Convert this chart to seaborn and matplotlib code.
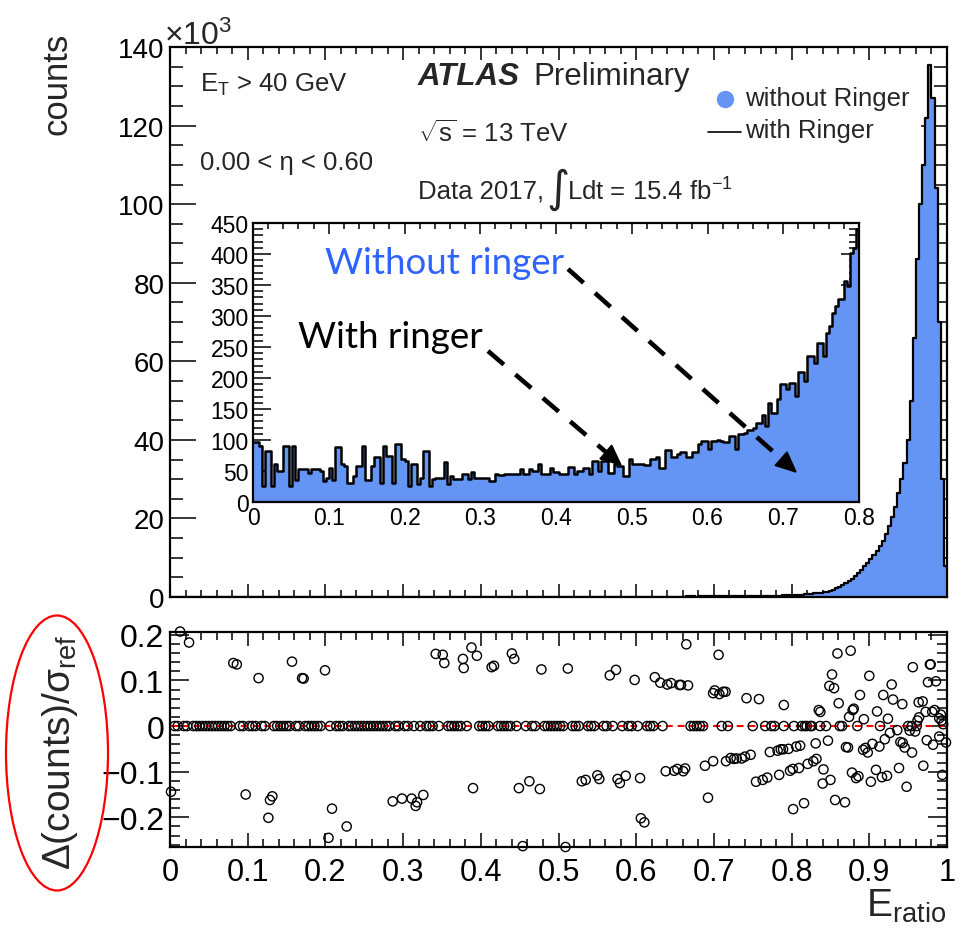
import numpy as np
import pandas as pd
import matplotlib
matplotlib.use("Agg")
import matplotlib.pyplot as plt
import seaborn as sns
from matplotlib.ticker import MultipleLocator, FuncFormatter
from matplotlib.patches import Ellipse, Polygon
from matplotlib.lines import Line2D

# ------------------------------------------------------------------ data
BIN_WIDTH = 0.004

# without Ringer: counts per bin for E_ratio in [0, 0.8)
counts_low = [
    96, 96, 90, 26, 82, 82, 26, 61, 50, 50,
    90, 90, 26, 90, 36, 53, 53, 54, 47, 54,
    54, 54, 50, 34, 39, 55, 36, 88, 88, 61,
    58, 31, 31, 42, 58, 58, 90, 36, 36, 58,
    72, 72, 31, 90, 74, 74, 31, 94, 94, 69,
    66, 26, 61, 61, 29, 39, 82, 82, 26, 37,
    38, 39, 38, 64, 29, 42, 37, 37, 37, 45,
    45, 37, 48, 39, 39, 39, 39, 39, 34, 34,
    45, 44, 44, 45, 45, 45, 45, 45, 53, 45,
    45, 53, 50, 50, 61, 45, 45, 45, 55, 48,
    48, 45, 45, 45, 57, 57, 45, 50, 50, 55,
    55, 45, 66, 66, 50, 66, 66, 47, 47, 61,
    58, 58, 42, 42, 70, 61, 61, 61, 61, 59,
    59, 69, 69, 72, 55, 55, 84, 84, 72, 72,
    77, 80, 80, 73, 73, 80, 80, 93, 99, 99,
    85, 99, 99, 100, 98, 96, 96, 106, 106, 85,
    109, 109, 112, 116, 116, 120, 128, 128, 141, 123,
    160, 144, 144, 166, 190, 190, 182, 192, 192, 171,
    209, 209, 195, 235, 235, 225, 257, 257, 235, 273,
    284, 305, 316, 327, 327, 356, 348, 402, 410, 440,
]
# without Ringer: counts per bin for E_ratio in [0.8, 1.0), units of 10^3
counts_high_k = [
    0.45, 0.50, 0.55, 0.60, 0.66, 0.73, 0.80, 0.90, 1.00, 1.10,
    1.25, 1.40, 1.60, 1.90, 2.20, 2.60, 3.00, 3.50, 4.10, 4.70,
    5.40, 6.10, 6.90, 7.80, 8.70, 9.60, 10.6, 11.7, 12.9, 14.3,
    16.0, 18.0, 20.3, 23.0, 26.5, 30.0, 34.0, 40.0, 50.0, 66.0,
    86.0, 100.0, 110.0, 122.0, 135.5, 127.0, 104.0, 70.0, 30.0, 8.0,
]
# with Ringer (identical within drawing precision)
with_low = list(counts_low)
with_high_k = list(counts_high_k)

# ratio panel: bins with non-zero Delta(counts)/sigma_ref
ratio_x = [
    0.0013, 0.013, 0.0245, 0.0815, 0.086, 0.0974, 0.114, 0.1266, 0.1287, 0.1317,
    0.157, 0.170, 0.172, 0.1995, 0.204, 0.2085, 0.2274, 0.2866, 0.2986, 0.311,
    0.3162, 0.318, 0.326, 0.342, 0.351, 0.353, 0.377, 0.378, 0.388, 0.390,
    0.395, 0.414, 0.417, 0.440, 0.443, 0.449, 0.454, 0.4625, 0.476, 0.478,
    0.509, 0.512, 0.530, 0.535, 0.550, 0.5525, 0.566, 0.574, 0.576, 0.579,
    0.5865, 0.598, 0.605, 0.606, 0.6105, 0.624, 0.631, 0.638, 0.640, 0.645,
    0.649, 0.653, 0.6555, 0.6577, 0.6606, 0.663, 0.6645, 0.6667, 0.6885, 0.6924,
    0.699, 0.699, 0.701, 0.706, 0.707, 0.712, 0.715, 0.7156, 0.7216, 0.7259,
    0.7293, 0.7357, 0.740, 0.742, 0.7473, 0.7542, 0.758, 0.7628, 0.7687, 0.772,
    0.782, 0.784, 0.786, 0.789, 0.790, 0.796, 0.798, 0.8015, 0.802, 0.806,
    0.8095, 0.811, 0.816, 0.8207, 0.828, 0.831, 0.832, 0.835, 0.837, 0.840,
    0.841, 0.8468, 0.8486, 0.850, 0.852, 0.8546, 0.856, 0.859, 0.8606, 0.8687,
    0.870, 0.8726, 0.874, 0.876, 0.8777, 0.8786, 0.880, 0.883, 0.886, 0.888,
    0.892, 0.893, 0.895, 0.898, 0.900, 0.902, 0.904, 0.9086, 0.910, 0.913,
    0.9163, 0.918, 0.920, 0.9228, 0.924, 0.9266, 0.9288, 0.9305, 0.936, 0.9382,
    0.940, 0.9425, 0.943, 0.9455, 0.948, 0.952, 0.955, 0.956, 0.959, 0.962,
    0.9635, 0.964, 0.9687, 0.9695, 0.9725, 0.974, 0.9755, 0.978, 0.979, 0.981,
    0.982, 0.984, 0.9858, 0.990, 0.990, 0.992, 0.993, 0.994, 0.995, 0.9987,
]
ratio_y = [
    -0.144, 0.207, 0.183, 0.138, 0.135, -0.150, 0.105, -0.201, -0.162, -0.154,
    0.141, 0.105, 0.104, 0.122, -0.245, -0.181, -0.220, -0.165, -0.159, -0.159,
    -0.175, -0.167, -0.151, 0.158, 0.156, 0.138, 0.147, 0.127, 0.172, -0.136,
    0.154, 0.129, 0.132, 0.159, 0.147, -0.136, -0.263, -0.121, -0.138, 0.124,
    -0.265, 0.126, -0.121, -0.118, -0.108, -0.116, 0.111, 0.123, -0.116, -0.125,
    -0.109, 0.101, -0.114, -0.202, -0.211, 0.107, 0.095, -0.099, 0.091, 0.094,
    -0.098, -0.094, 0.090, 0.090, -0.099, -0.093, 0.179, 0.089, -0.087, -0.157,
    0.072, -0.077, 0.078, 0.156, 0.070, 0.075, 0.075, -0.077, -0.070, -0.072,
    -0.071, -0.071, -0.067, 0.061, -0.063, -0.122, 0.059, -0.118, -0.113, -0.057,
    -0.054, -0.107, -0.051, -0.051, 0.046, -0.050, -0.098, -0.094, -0.182, -0.045,
    -0.092, -0.043, -0.169, -0.083, -0.077, -0.038, -0.072, 0.035, 0.031, -0.126,
    -0.095, -0.032, 0.088, -0.118, 0.113, 0.083, -0.162, 0.159, 0.050, -0.167,
    -0.046, -0.047, 0.020, 0.165, -0.102, 0.035, 0.038, -0.114, -0.110, 0.068,
    -0.052, 0.015, -0.048, -0.058, 0.110, -0.122, -0.039, -0.096, 0.032, -0.045,
    -0.112, 0.068, -0.029, -0.109, 0.016, -0.015, 0.091, 0.058, -0.009, -0.092,
    -0.035, 0.048, -0.037, -0.047, -0.133, -0.010, -0.058, 0.129, -0.012, 0.012,
    0.052, 0.019, 0.054, -0.087, 0.031, -0.031, 0.096, 0.135, 0.135, 0.031,
    -0.041, 0.035, 0.098, 0.017, -0.023, 0.025, 0.012, -0.107, 0.004, -0.036,
]
# bins with zero difference: a dense run below 0.79, then isolated ones
zero_run_range = (0.004, 0.788)
zero_x_sparse = [0.790, 0.803, 0.813, 0.817, 0.8195, 0.824, 0.826, 0.8366, 0.8443,
                 0.862, 0.865, 0.8846, 0.9138, 0.950, 0.9546, 0.961]

# tick labels
main_yticks = [0, 20, 40, 60, 80, 100, 120, 140]
inset_yticks = [0, 50, 100, 150, 200, 250, 300, 350, 400, 450]
ratio_yticks = [-0.2, -0.1, 0, 0.1, 0.2]
x_ticks = [0, 0.1, 0.2, 0.3, 0.4, 0.5, 0.6, 0.7, 0.8, 0.9, 1.0]

# ------------------------------------------------------------------ style
sns.set_style("ticks")
plt.rcParams["font.family"] = ["Liberation Sans", "DejaVu Sans"]
plt.rcParams["mathtext.fontset"] = "custom"
plt.rcParams["mathtext.rm"] = "Liberation Sans"
plt.rcParams["mathtext.it"] = "Liberation Sans:italic"
plt.rcParams["mathtext.bf"] = "Liberation Sans:bold"
plt.rcParams["lines.scale_dashes"] = False

BLUE = "#6495f5"
W, H = 961, 937
fig = plt.figure(figsize=(W / 100, H / 100), dpi=100)


def fx(X):
    return X / W


def fy(Y):
    return 1 - Y / H


def add_axes(x0, y0, x1, y1):
    return fig.add_axes([fx(x0), fy(y1), (x1 - x0) / W, (y1 - y0) / H])


ax_main = add_axes(170, 48, 947, 598)
ax_ratio = add_axes(170, 633, 947, 848)
ax_in = add_axes(253, 224, 859, 503)

edges = np.round(np.arange(0, 1.0 + 1e-9, BIN_WIDTH), 6)
centers = edges[:-1] + BIN_WIDTH / 2
main_df = pd.DataFrame({
    "E_ratio": centers,
    "without": np.concatenate([np.array(counts_low) / 1000.0, counts_high_k]),
    "with": np.concatenate([np.array(with_low) / 1000.0, with_high_k]),
})
n_in = len(counts_low)
inset_df = pd.DataFrame({"E_ratio": centers[:n_in], "without": counts_low, "with": with_low})

# ---- main panel
sns.histplot(data=main_df, x="E_ratio", weights="without", bins=list(edges),
             element="step", fill=True, color=BLUE, alpha=1, linewidth=0, ax=ax_main)
sns.histplot(data=main_df, x="E_ratio", weights="with", bins=list(edges),
             element="step", fill=False, color="black", linewidth=1.6, ax=ax_main)
ax_main.set_xlim(0, 1)
ax_main.set_ylim(0, 140)
ax_main.set_yticks(main_yticks)
ax_main.yaxis.set_minor_locator(MultipleLocator(5))
ax_main.xaxis.set_major_locator(MultipleLocator(0.1))
ax_main.xaxis.set_minor_locator(MultipleLocator(0.02))
ax_main.yaxis.set_major_formatter(FuncFormatter(lambda v, p: f"{v:g}"))
ax_main.tick_params(axis="x", which="both", labelbottom=False)
ax_main.tick_params(axis="x", which="major", length=9.4)
ax_main.tick_params(axis="x", which="minor", length=5)
ax_main.tick_params(axis="y", which="major", length=18.5, labelsize=20, pad=4)
ax_main.tick_params(axis="y", which="minor", length=9.4)

# ---- inset
sns.histplot(data=inset_df, x="E_ratio", weights="without", bins=list(edges[:n_in + 1]),
             element="step", fill=True, color=BLUE, alpha=1, linewidth=0, ax=ax_in)
sns.histplot(data=inset_df, x="E_ratio", weights="with", bins=list(edges[:n_in + 1]),
             element="step", fill=False, color="black", linewidth=1.8, ax=ax_in)
ax_in.set_xlim(0, 0.8)
ax_in.set_ylim(0, 450)
ax_in.set_yticks(inset_yticks)
ax_in.yaxis.set_minor_locator(MultipleLocator(10))
ax_in.xaxis.set_major_locator(MultipleLocator(0.1))
ax_in.xaxis.set_minor_locator(MultipleLocator(0.02))
ax_in.xaxis.set_major_formatter(FuncFormatter(lambda v, p: f"{v:g}"))
ax_in.tick_params(axis="x", which="major", length=8, labelsize=16.5, pad=3)
ax_in.tick_params(axis="x", which="minor", length=4.3)
ax_in.tick_params(axis="y", which="major", length=13, labelsize=16.5, pad=3)
ax_in.tick_params(axis="y", which="minor", length=7.2)

# ---- ratio panel
occupied = set(int(round((x - BIN_WIDTH / 2) / BIN_WIDTH)) for x in ratio_x)
zero_x = [c for i, c in enumerate(centers)
          if zero_run_range[0] <= c <= zero_run_range[1] and i not in occupied]
zero_x = zero_x + zero_x_sparse
ratio_df = pd.DataFrame({"x": list(zero_x) + ratio_x,
                         "delta": [0.0] * len(zero_x) + ratio_y})
ax_ratio.axhline(0, color="red", lw=1.5, linestyle=(0, (5, 3.5)), zorder=1)
sns.scatterplot(data=ratio_df, x="x", y="delta", marker="o", s=44,
                facecolors="none", edgecolor="black", linewidth=1.0,
                ax=ax_ratio, clip_on=False, zorder=3)
for coll in ax_ratio.collections:
    coll.set_facecolor("none")
ax_ratio.set_xlim(0, 1)
ax_ratio.set_ylim(-0.265, 0.206)
ax_ratio.set_yticks(ratio_yticks)
ax_ratio.set_xticks(x_ticks)
ax_ratio.yaxis.set_minor_locator(MultipleLocator(0.02))
ax_ratio.xaxis.set_minor_locator(MultipleLocator(0.02))
ax_ratio.xaxis.set_major_formatter(FuncFormatter(lambda v, p: f"{v:g}"))
ax_ratio.yaxis.set_major_formatter(
    FuncFormatter(lambda v, p: f"{v:g}".replace("-", "\u2212")))
ax_ratio.tick_params(axis="x", which="major", length=10, labelsize=22, pad=7)
ax_ratio.tick_params(axis="x", which="minor", length=5.8)
ax_ratio.tick_params(axis="y", which="major", length=13.7, labelsize=23, pad=4)
ax_ratio.tick_params(axis="y", which="minor", length=7.2)

for ax in (ax_main, ax_ratio, ax_in):
    ax.set_xlabel("")
    ax.set_ylabel("")
    ax.tick_params(which="both", direction="in", top=True, right=True, width=1.1,
                   colors="black")
    for sp in ax.spines.values():
        sp.set_visible(True)
        sp.set_linewidth(1.6)
        sp.set_color("black")
    ax.set_facecolor("white")
    ax.grid(False)

# ---- texts
fig.text(fx(57), fy(33), "counts", rotation=90, ha="center", va="top", fontsize=25)
fig.text(fx(164), fy(45), "\u00d710$^{3}$", ha="left", va="baseline", fontsize=23)
fig.text(fx(60), fy(752), "\u0394(counts)/\u03c3$_{\\mathrm{ref}}$", rotation=90,
         ha="center", va="center", fontsize=28)
fig.text(fx(946), fy(917), "E$_{\\mathrm{ratio}}$", ha="right", va="baseline", fontsize=28)

fig.text(fx(200), fy(85), "E$_{\\mathrm{T}}$ > 40 GeV", ha="left", va="center", fontsize=18.5)
fig.text(fx(200), fy(163), "0.00 < \u03b7 < 0.60", ha="left", va="center", fontsize=18.5)
fig.text(fx(418), fy(77), "ATLAS", ha="left", va="center", fontsize=22.5,
         fontweight="bold", fontstyle="italic")
fig.text(fx(533), fy(77), "Preliminary", ha="left", va="center", fontsize=22.5)
fig.text(fx(418), fy(134), "$\\sqrt{\\mathrm{s}}$ = 13 TeV", ha="left", va="center",
         fontsize=18.5)
fig.text(fx(418), fy(192), "Data 2017,", ha="left", va="center", fontsize=18.5)
fig.text(fx(546), fy(190), "\u222b", ha="left", va="center", fontsize=32,
         family=["DejaVu Sans"])
fig.text(fx(567), fy(192), "Ldt = 15.4 fb$^{\\mathrm{-1}}$", ha="left", va="center",
         fontsize=18.5)

# legend
fig.add_artist(Line2D([fx(725)], [fy(100)], marker="o", ms=11.5, color=BLUE,
                      linestyle="none", transform=fig.transFigure))
fig.text(fx(745), fy(99), "without Ringer", ha="left", va="center", fontsize=18.5)
fig.add_artist(Line2D([fx(708), fx(741)], [fy(133), fy(133)], color="black", lw=1.2,
                      transform=fig.transFigure))
fig.text(fx(745), fy(131), "with Ringer", ha="left", va="center", fontsize=18.5)

# inset annotations
fig.text(fx(325), fy(263), "Without ringer", ha="left", va="center", fontsize=26.5,
         color="#2f63ff", family=["Lato", "DejaVu Sans"])
fig.text(fx(298), fy(337), "With ringer", ha="left", va="center", fontsize=26.5,
         color="black", family=["Lato", "DejaVu Sans"])


def dashed_arrow(x0, y0, x1, y1, head_len=20, head_w=18):
    d = np.array([x1 - x0, y1 - y0], float)
    L = np.hypot(*d)
    u = d / L
    n = np.array([-u[1], u[0]])
    base = np.array([x1, y1]) - u * head_len
    fig.add_artist(Line2D([fx(x0), fx(base[0])], [fy(y0), fy(base[1])], color="black",
                          lw=3.3, linestyle=(0, (15, 11)), solid_capstyle="butt",
                          transform=fig.transFigure, zorder=5))
    p1 = base + n * head_w / 2
    p2 = base - n * head_w / 2
    tri = [(fx(x1), fy(y1)), (fx(p1[0]), fy(p1[1])), (fx(p2[0]), fy(p2[1]))]
    fig.add_artist(Polygon(tri, closed=True, color="black", transform=fig.transFigure,
                           zorder=5))


dashed_arrow(568, 270, 796, 473)
dashed_arrow(488, 352, 621, 466)

# red ellipse around the ratio y title
fig.add_artist(Ellipse((fx(57), fy(754)), width=102 / W, height=275 / H, fill=False,
                       edgecolor="red", lw=1.6, transform=fig.transFigure))

fig.savefig("out.png", dpi=100, facecolor="white")
